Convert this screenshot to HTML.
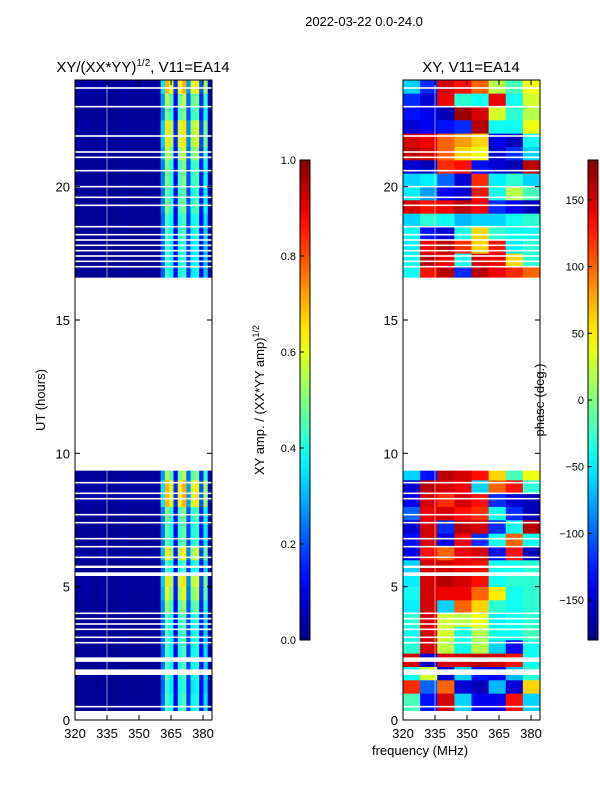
<!DOCTYPE html>
<html><head><meta charset="utf-8"><style>
body{margin:0;background:#fff;}
svg{display:block;font-family:"Liberation Sans","DejaVu Sans",sans-serif;}
</style></head><body>
<svg id="fig" width="600" height="800" viewBox="0 0 600 800">
<defs>
<linearGradient id="jetg" x1="0" y1="1" x2="0" y2="0"></linearGradient>
</defs>
<text x="364" y="26" text-anchor="middle" font-size="13">2022-03-22 0.0-24.0</text>
<text x="143" y="72" text-anchor="middle" font-size="15">XY/(XX*YY)<tspan font-size="10" dy="-6">1/2</tspan><tspan dy="6">, V11=EA14</tspan></text>
<text x="471" y="72" text-anchor="middle" font-size="15">XY, V11=EA14</text>
<text x="420" y="755" text-anchor="middle" font-size="13">frequency (MHz)</text>
<text transform="translate(45,400) rotate(-90)" text-anchor="middle" font-size="13">UT (hours)</text>
<text transform="translate(264,400) rotate(-90)" text-anchor="middle" font-size="13">XY amp. / (XX*YY amp)<tspan font-size="9" dy="-5">1/2</tspan></text>
<text transform="translate(544,400) rotate(-90)" text-anchor="middle" font-size="13">phase (deg.)</text>
<g id="left"></g>
<g id="right"></g>
<g id="cbars"></g>
</svg>
<script>
const rowTimes=[0,0.5,1,1.5,2,2.5,3,3.5,4,4.5,5,5.5,6,6.5,7,7.5,8,8.5,9,16.5,17,17.5,18,18.5,19,19.5,20,20.5,21,21.5,22,22.5,23,23.5];
const ampRowGain=[0.9,0.9,0.85,0.9,0.9,0.9,0.9,0.9,1.05,1.2,1.3,0.9,1.25,0.95,0.95,1.0,1.4,1.4,1.1,0.85,0.85,0.85,0.9,0.9,1.0,0.95,1.0,1.0,1.15,1.3,1.3,1.0,1.1,1.4];
const ampColProfile=[0.02,0.02,0.03,0.02,0.02,0.02,0.03,0.02,0.02,0.02,0.02,0.03,0.02,0.02,0.02,0.02,0.02,0.02,0.03,0.02,0.25,0.5,0.42,0.12,0.45,0.5,0.2,0.42,0.46,0.15,0.38,0.05];
const phaseValues=[
[-20,-130,150,-60,-140,-140,130,-60],
[-20,-130,150,-60,-140,-140,130,-60],
[120,-100,100,-150,-160,-70,-150,60],
[-40,30,-150,-60,-130,-140,-70,-30],
[150,-150,150,150,160,150,130,-40],
[-30,150,20,-40,20,-60,-140,-40],
[-40,150,30,-40,20,-40,-40,-20],
[-30,150,30,20,40,-50,-40,-30],
[-50,150,-60,100,60,-30,-40,-30],
[-40,150,140,140,100,50,-40,-30],
[-50,150,160,150,130,-40,-30,-30],
[-60,150,150,140,130,-40,-40,-30],
[-140,130,100,140,150,-130,130,-160],
[-130,150,-140,140,-120,-40,100,-40],
[-150,150,-120,160,150,-120,-40,160],
[-100,140,150,130,120,-40,-120,-160],
[-140,150,120,150,130,-120,-150,-160],
[-150,160,150,140,-60,100,130,-30],
[-60,-130,160,150,130,60,-20,40],
[-40,130,160,-120,160,140,120,100],
[-40,160,140,-40,150,140,60,-30],
[-50,140,160,120,60,130,-50,-30],
[-40,-130,-150,-40,60,-30,-40,-40],
[-60,-30,-40,-70,-60,-60,-40,-30],
[150,130,140,160,140,-120,-140,-160],
[-50,-80,-140,-150,130,-40,20,-20],
[-60,-50,-100,-150,120,-50,-30,-60],
[-150,-160,120,130,-130,-150,-160,160],
[160,150,100,60,40,-150,-120,-60],
[150,140,100,80,60,-140,-160,-40],
[-150,-140,-130,-120,160,-40,-40,40],
[-130,-140,-160,170,150,30,-30,20],
[-120,-150,140,-30,-40,140,-40,30],
[-60,-120,150,130,100,20,-20,40]];
const dataBlocks=[[0.35,1.69],[1.91,2.18],[2.36,5.4],[5.55,5.7],[5.8,9.35],[16.6,24]];
const gapLines=[23.7,23.0,21.9,21.3,21.1,20.6,20.0,19.6,19.3,18.5,18.2,18.0,17.8,17.6,17.4,17.2,17.0,8.9,8.5,8.3,7.7,7.4,6.8,6.5,6.1,4.0,3.8,3.6,3.4,3.1,2.9,0.5];
const xTicks=[320,335,350,365,380];
const yTicks=[0,5,10,15,20];
const ampTicks=[0,0.2,0.4,0.6,0.8,1.0];
const phaseTicks=[-150,-100,-50,0,50,100,150];

const NS="http://www.w3.org/2000/svg";
const fMin=320,fMax=384.2,tMin=0,tMax=24,yTop=80,yBot=720,W=137;
const yS=t=>yBot-(t-tMin)/(tMax-tMin)*(yBot-yTop);
const xS=(x0,f)=>x0+(f-fMin)/(fMax-fMin)*W;
function jet(v){v=Math.max(0,Math.min(1,v));const c=x=>Math.round(255*Math.max(0,Math.min(1,1.5-Math.abs(x))));return `rgb(${c(4*v-3)},${c(4*v-2)},${c(4*v-1)})`;}
function mk(tag,attrs,parent){const e=document.createElementNS(NS,tag);for(const k in attrs)e.setAttribute(k,attrs[k]);parent.appendChild(e);return e;}

function panel(g,x0,nCols,valFn){
  rowTimes.forEach((t0,i)=>{
    const t1=t0+0.5;
    dataBlocks.forEach(b=>{
      const a=Math.max(t0,b[0]),c=Math.min(t1,b[1]);
      if(c<=a)return;
      for(let j=0;j<nCols;j++){
        const f0=fMin+j*(fMax-fMin)/nCols,f1=fMin+(j+1)*(fMax-fMin)/nCols;
        const r=mk('rect',{x:xS(x0,f0),y:yS(c),width:xS(x0,f1)-xS(x0,f0)+0.4,height:yS(a)-yS(c)+0.3,fill:jet(valFn(i,j))},g);
        
        
      }
    });
  });
  gapLines.forEach(t=>{const l=mk('rect',{x:x0,y:yS(t)-0.8,width:W,height:1.6,fill:'#fff'},g);
    
    });
  mk('line',{x1:xS(x0,335),x2:xS(x0,335),y1:yTop,y2:yBot,stroke:'#fff','stroke-width':0.8,opacity:0.7},g);
  mk('rect',{x:x0,y:yTop,width:W,height:yBot-yTop,fill:'none',stroke:'#000','stroke-width':1},g);
  xTicks.forEach(f=>{const x=xS(x0,f);
    mk('line',{x1:x,x2:x,y1:yBot,y2:yBot-5,stroke:'#000'},g);
    mk('line',{x1:x,x2:x,y1:yTop,y2:yTop+5,stroke:'#000'},g);
    const tx=mk('text',{x:x,y:yBot+18,'text-anchor':'middle','font-size':13},g);tx.textContent=f;
    
    });
  yTicks.forEach(t=>{const y=yS(t);
    mk('line',{x1:x0,x2:x0+5,y1:y,y2:y,stroke:'#000'},g);
    mk('line',{x1:x0+W,x2:x0+W-5,y1:y,y2:y,stroke:'#000'},g);
    const tx=mk('text',{x:x0-5,y:y+5,'text-anchor':'end','font-size':13},g);tx.textContent=t;
    
    });
}
panel(document.getElementById('left'),75,ampColProfile.length,(i,j)=>ampColProfile[j]*ampRowGain[i]);
panel(document.getElementById('right'),403,8,(i,j)=>(phaseValues[i][j]+180)/360);

const grad=document.getElementById('jetg');
for(let k=0;k<=20;k++){const s=document.createElementNS(NS,'stop');s.setAttribute('offset',k/20);s.setAttribute('stop-color',jet(k/20));grad.appendChild(s);}
const cb=document.getElementById('cbars');
function cbar(x,lo,hi,ticks,fmt,name){
  const r=mk('rect',{x:x,y:160,width:10,height:480,fill:'url(#jetg)',stroke:'#000','stroke-width':1},cb);
  
  
  ticks.forEach(v=>{const y=640-(v-lo)/(hi-lo)*480;
    mk('line',{x1:x,x2:x+4,y1:y,y2:y,stroke:'#000'},cb);
    const t=mk('text',{x:x-4,y:y+4,'text-anchor':'end','font-size':11},cb);t.textContent=fmt(v);
    
    });
}
cbar(300,0,1,ampTicks,v=>v.toFixed(1),'amplitude-colorbar');
cbar(588,-180,180,phaseTicks,v=>v<0?'\u2212'+(-v):String(v),'phase-colorbar');
</script>
</body></html>
